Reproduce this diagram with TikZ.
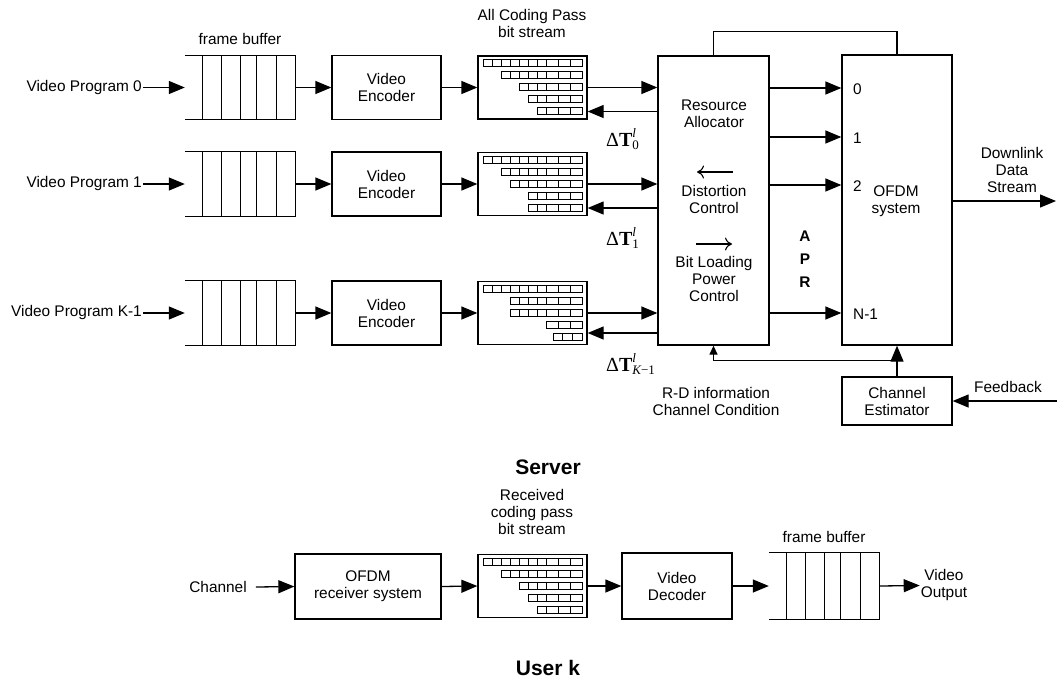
\documentclass[tikz,border=0pt]{standalone}
\usepackage{fontspec}
\setmainfont{Liberation Sans}
\newfontfamily\serifface{Liberation Serif}
\usetikzlibrary{arrows.meta,calc}

% Rows of small cells inside a bit-stream box:
% #1 right edge x, #2 top edge y, #3 list of (left cells)/(right cell width)
\newcommand\cellrows[3]{%
  \foreach \nl/\cw [count=\i from 0] in {#3} {
    \pgfmathsetmacro\ry{#2+3.5+12*\i}
    \foreach \k in {1,2,3}
      \draw[cell] ({#1-5-\k*\cw},\ry) rectangle ++(\cw,7.3);
    \ifnum\nl>0
      \foreach \j in {1,...,\nl}
        \draw[cell] ({#1-5-3*\cw-\j*9},\ry) rectangle ++(9,7.3);
    \fi
  }}

% Open-ended frame buffer: top, bottom, right side and slot dividers
\newcommand\fbslots[1]{%
  \draw[wire] (#1.north west) -- (#1.north east) -- (#1.south east) -- (#1.south west);
  \foreach \d in {18,37,56,72,92}
    \draw[wire] ($(#1.north west)+(\d,0)$) -- ($(#1.south west)+(\d,0)$);}

% Threshold symbol: Delta T with superscript l and a subscript
\newcommand\dT[1]{$\mbox{\serifface\fontsize{20}{22}\selectfont Δ\bfseries T}%
  ^{\mbox{\serifface\itshape\fontsize{13}{13}\selectfont l}}%
  _{\mbox{\serifface\fontsize{13}{13}\selectfont #1}}$}

\tikzset{
  wire/.style={line width=1.3pt},
  blk/.style={draw, line width=1.3pt, inner sep=0pt, align=center},
  fbuf/.style={inner sep=0pt, minimum width=110pt, minimum height=64pt},
  bsbox/.style={draw, line width=1.3pt, inner sep=0pt, minimum width=109pt, minimum height=63pt},
  cell/.style={line width=0.8pt},
  arr/.style={line width=1.3pt, -{Triangle[length=16pt,width=13pt]}},
  arrs/.style={line width=1.3pt, -{Triangle[length=9pt,width=8pt]}},
  barb/.style={line width=1.1pt, -{Computer Modern Rightarrow[length=7pt,width=13pt]}},
  txt/.style={align=center, inner sep=1pt},
  delta/.style={anchor=west, inner sep=0pt},
  apr/.style={inner sep=0pt, font=\fontsize{15.4}{17}\selectfont\bfseries},
  title/.style={inner sep=0pt, font=\fontsize{21}{24}\selectfont\bfseries}
}

\begin{document}
\begin{tikzpicture}[x=1pt, y=-1pt, font=\fontsize{15.4}{17}\selectfont]
\useasboundingbox (0,0) rectangle (1057,681);

% ---------------- Server: three video programs ----------------
\node[txt] at (240,39) {frame buffer};
\node[txt] at (532,23.5) {All Coding Pass\\bit stream};

% program 0
\node[txt, anchor=east] (vp0) at (143,87.5) {Video Program 0};
\node[fbuf] (fb0) at (240,87.5) {};
\node[blk, minimum width=109pt, minimum height=64pt] (enc0) at (386.5,87.5) {Video\\Encoder};
\node[bsbox] (bs0) at (532.5,87.5) {};
\fbslots{fb0}
\cellrows{587}{56}{7/12,5/12,3/12,2/12,1/12}

% program 1
\node[txt, anchor=east] (vp1) at (143,184) {Video Program 1};
\node[fbuf] (fb1) at (240,184) {};
\node[blk, minimum width=109pt, minimum height=64pt] (enc1) at (386.5,184) {Video\\Encoder};
\node[bsbox] (bs1) at (532.5,184) {};
\fbslots{fb1}
\cellrows{587}{152.5}{7/12,5/12,4/12,2/12,2/12}

% program K-1
\node[txt, anchor=east] (vp2) at (143,313) {Video Program K-1};
\node[fbuf] (fb2) at (240,313) {};
\node[blk, minimum width=109pt, minimum height=64pt] (enc2) at (386.5,313) {Video\\Encoder};
\node[bsbox] (bs2) at (532.5,313) {};
\fbslots{fb2}
\cellrows{587}{281.5}{7/12,4/12,4/12,0/12,0/9.67}

\foreach \r in {0,1,2} {
  \draw[arr] (vp\r.east) -- (fb\r.west);
  \draw[arr] (fb\r.east) -- (enc\r.west);
  \draw[arr] (enc\r.east) -- (bs\r.west);
}

% resource allocator
\node[blk, minimum width=111pt, minimum height=289pt] (ra) at (713.5,200.5) {};
\node[txt] (ra1) at (714,114) {Resource\\Allocator};
\node[txt] (ra2) at (714,199.5) {Distortion\\Control};
\node[txt] (ra3) at (714,278.5) {Bit Loading\\Power\\Control};
\coordinate (dcR) at (733,172);
\coordinate (dcL) at (697,172);
\draw[barb] (dcR) -- (dcL);
\coordinate (blL) at (696,244);
\coordinate (blR) at (732,244);
\draw[barb] (blL) -- (blR);

% forward streams and feedback thresholds
\draw[arr] (bs0.east) -- (bs0.east -| ra.west);
\draw[arr] (bs1.east) -- (bs1.east -| ra.west);
\draw[arr] (bs2.east) -- (bs2.east -| ra.west);
\coordinate (t0) at ($(bs0.east)+(0,24)$);
\coordinate (t1) at ($(bs1.east)+(0,24)$);
\coordinate (t2) at ($(bs2.east)+(0,20)$);
\draw[arr] (t0 -| ra.west) -- (t0);
\draw[arr] (t1 -| ra.west) -- (t1);
\draw[arr] (t2 -| ra.west) -- (t2);
\node[delta] (d0) at (606,139) {\dT{0}};
\node[delta] (d1) at (606,238) {\dT{1}};
\node[delta] (d2) at (606,364) {\dT{\itshape K\upshape−1}};

% APR
\node[apr] (pa) at (805,236) {A};
\node[apr] (pp) at (805,259) {P};
\node[apr] (pr) at (805,282) {R};

% OFDM system
\node[blk, minimum width=110pt, minimum height=290pt] (ofdm) at (897,200) {};
\node[txt] (ofdmt) at (896,201) {OFDM\\system};
\foreach \yy/\lab/\nm in {88/0/s0, 137/1/s1, 185/2/s2, 313/N-1/sn} {
  \coordinate (\nm) at (800,\yy);
  \draw[arr] (ra.east |- \nm) -- (ofdm.west |- \nm);
  \node[anchor=west, inner sep=0pt] at (853,\yy+1) {\lab};
}
\draw[wire] (ra.north) -- ++(0,-24) -| (ofdm.north);

\coordinate (dlend) at (1056,201);
\draw[arr] (ofdm.east |- dlend) -- (dlend);
\node[txt] (dl) at (1012,170) {Downlink\\Data\\Stream};

% channel estimator
\node[blk, minimum width=110pt, minimum height=48pt] (ce) at (897,401) {Channel\\Estimator};
\draw[arr] (ce.north) -- (ofdm.south);
\coordinate (jn) at ($(ce.north)+(0,-16)$);
\draw[arrs] (jn) -| (ra.south);
\coordinate (fbin) at (1057,401);
\draw[arr] (fbin) -- (ce.east);
\node[txt] (fbl) at (1008,387) {Feedback};
\node[txt] (rd) at (716,401) {R-D information\\Channel Condition};

\node[title] (srv) at (548,467) {Server};

% ---------------- User k ----------------
\node[txt] at (532,512) {Received\\coding pass\\bit stream};
\node[txt] at (824,537) {frame buffer};
\node[txt] (chan) at (218,587) {Channel};
\node[blk, minimum width=146pt, minimum height=65pt] (rx) at (368,586.5) {OFDM\\receiver system};
\node[bsbox] (bsk) at (532.5,586) {};
\cellrows{587}{554.5}{7/12,5/12,3/12,2/12,1/12}
\node[blk, minimum width=110pt, minimum height=66pt] (dec) at (677,586) {Video\\Decoder};
\node[fbuf, minimum height=66pt] (fbk) at (824,586) {};
\fbslots{fbk}
\node[txt] (vout) at (944,585.5) {Video\\Output};

\draw[arr] ($(chan.east)+(8,0)$) -- (rx.west);
\draw[arr] (rx.east) -- (bsk.west);
\draw[arr] (bsk.east) -- (dec.west);
\draw[arr] (dec.east) -- (fbk.west);
\draw[arr] (fbk.east) -- (vout.west);

\node[title] (usr) at (548,668) {User k};
\end{tikzpicture}
\end{document}
